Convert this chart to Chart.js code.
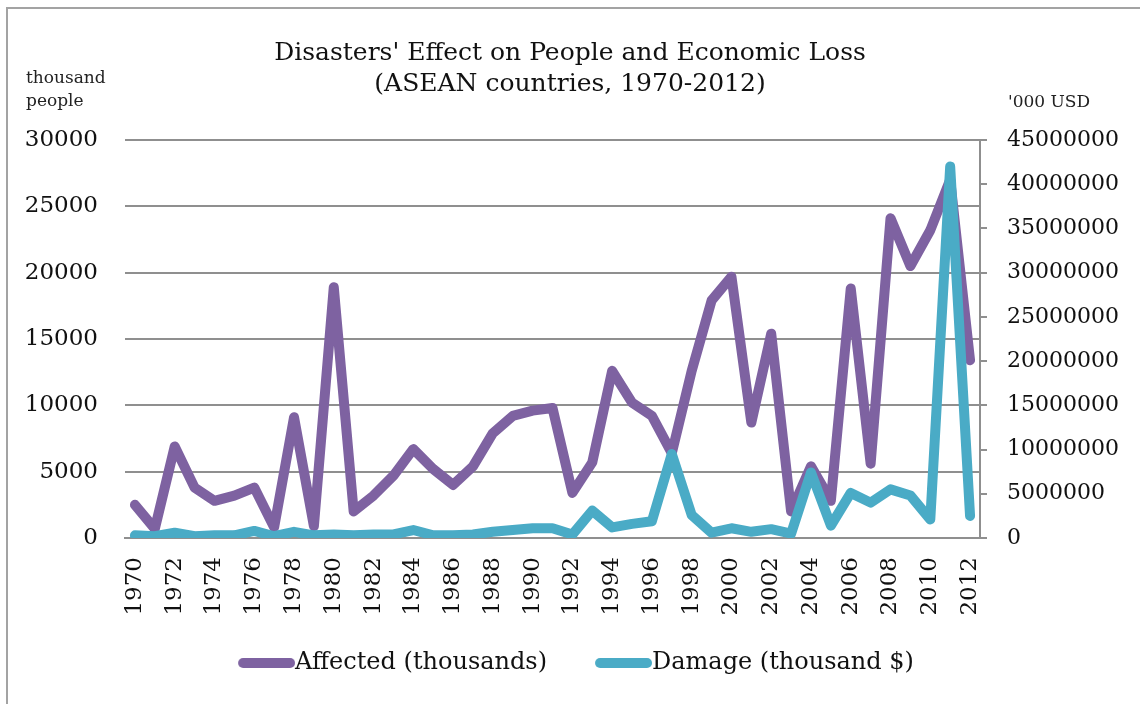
<!DOCTYPE html>
<html>
<head>
<meta charset="utf-8">
<script src="https://cdn.jsdelivr.net/npm/chart.js@4"></script>
<style>
  html, body { margin: 0; padding: 0; background: #fff; overflow: hidden; }
  #wrap { position: relative; width: 1140px; height: 704px; }
  #frame { position: absolute; left: 6px; top: 7px; width: 1200px; height: 800px;
           border: 2px solid #a3a3a3; box-sizing: border-box; }
  canvas { position: absolute; left: 0; top: 0; }
</style>
</head>
<body>
<div id="wrap">
  <div id="frame"></div>
  <canvas id="chart" width="1140" height="704"></canvas>
</div>
<script>
var years = [];
for (var y = 1970; y <= 2012; y++) years.push(String(y));

// thousand people
var affected = [2500, 700, 6900, 3800, 2800, 3200, 3800, 800, 9100, 900,
                18900, 2000, 3200, 4700, 6700, 5200, 4000, 5400, 7900, 9200,
                9600, 9800, 3400, 5700, 12600, 10200, 9200, 6400, 12600, 17900,
                19700, 8700, 15400, 2000, 5400, 2800, 18800, 5600, 24100, 20500,
                23200, 27000, 13400];

// '000 USD
var damage = [300000, 200000, 600000, 200000, 300000, 300000, 800000, 200000, 700000, 300000,
              400000, 300000, 400000, 400000, 900000, 300000, 300000, 400000, 700000, 900000,
              1100000, 1100000, 400000, 3100000, 1200000, 1600000, 1900000, 9500000, 2600000, 600000,
              1100000, 700000, 1000000, 500000, 7400000, 1400000, 5100000, 4000000, 5500000, 4800000,
              2100000, 42000000, 2500000];

var titleLines = ["Disasters' Effect on People and Economic Loss", "(ASEAN countries, 1970-2012)"];
var leftUnit = ['thousand', 'people'];
var rightUnit = "'000 USD";

var serif = "'DejaVu Serif', serif";
var gridGray = '#8f8f8f';
var legendFont = 24;
var swatchW = 57;

var unitLabels = {
  id: 'unitLabels',
  afterDraw: function(chart) {
    var ctx = chart.ctx;
    ctx.save();
    ctx.fillStyle = '#222';
    ctx.font = '17px ' + serif;
    ctx.textBaseline = 'middle';
    ctx.textAlign = 'left';
    ctx.fillText(leftUnit[0], 26, 79);
    ctx.fillText(leftUnit[1], 26, 102);
    ctx.fillText(rightUnit, 1008, 103);
    ctx.restore();
  }
};

// legend swatch: a short thick rounded line that sits right against its text
function swatch(color) {
  var gap = legendFont / 2;
  var c = document.createElement('canvas');
  c.width = swatchW + 2 * gap;
  c.height = 12;
  var g = c.getContext('2d');
  g.strokeStyle = color;
  g.lineWidth = 10;
  g.lineCap = 'round';
  g.beginPath();
  g.moveTo(2 * gap + 5, 6);
  g.lineTo(c.width - 5, 6);
  g.stroke();
  return c;
}

function plain(v) { return String(v); }

new Chart(document.getElementById('chart'), {
  type: 'line',
  data: {
    labels: years,
    datasets: [
      {
        label: 'Affected (thousands)',
        data: affected,
        yAxisID: 'y',
        borderColor: '#7e62a1',
        backgroundColor: '#7e62a1',
        borderWidth: 10,
        borderCapStyle: 'round',
        borderJoinStyle: 'round',
        pointRadius: 0,
        tension: 0,
        order: 1
      },
      {
        label: 'Damage (thousand $)',
        data: damage,
        yAxisID: 'y1',
        borderColor: '#4aabc6',
        backgroundColor: '#4aabc6',
        borderWidth: 10,
        borderCapStyle: 'round',
        borderJoinStyle: 'round',
        pointRadius: 0,
        tension: 0,
        order: 0
      }
    ]
  },
  options: {
    responsive: false,
    animation: false,
    layout: { padding: { top: 38, bottom: 19, left: 0, right: 0 } },
    plugins: {
      title: {
        display: true,
        text: titleLines,
        color: '#111',
        font: { family: serif, size: 25, weight: 'normal', lineHeight: 1.24 },
        padding: { top: 0, bottom: 40 }
      },
      legend: {
        position: 'bottom',
        labels: {
          color: '#111',
          font: { family: serif, size: legendFont },
          usePointStyle: true,
          pointStyleWidth: swatchW,
          padding: 36,
          sort: function(a, b) { return a.datasetIndex - b.datasetIndex; },
          generateLabels: function(chart) {
            var items = Chart.defaults.plugins.legend.labels.generateLabels(chart);
            items.forEach(function(it) {
              it.pointStyle = swatch(chart.data.datasets[it.datasetIndex].borderColor);
              it.lineWidth = 0;
            });
            return items;
          }
        }
      },
      tooltip: { enabled: false }
    },
    scales: {
      x: {
        offset: true,
        grid: { display: false },
        border: { display: true, color: gridGray, width: 2 },
        ticks: {
          autoSkip: false,
          minRotation: 90,
          maxRotation: 90,
          padding: 11,
          color: '#111',
          font: { family: serif, size: 23 },
          callback: function(v, i) { return i % 2 === 0 ? years[i] : ''; }
        },
        afterFit: function(s) { s.height = 77; }
      },
      y: {
        position: 'left',
        min: 0,
        max: 30000,
        grid: { color: gridGray, lineWidth: 2, drawTicks: false },
        border: { display: false },
        ticks: {
          stepSize: 5000,
          padding: 27,
          color: '#111',
          font: { family: serif, size: 23 },
          callback: plain
        },
        afterFit: function(s) { s.width = 125; }
      },
      y1: {
        position: 'right',
        min: 0,
        max: 45000000,
        grid: { drawOnChartArea: false, color: gridGray, lineWidth: 2, tickLength: 7 },
        border: { display: true, color: gridGray, width: 2 },
        ticks: {
          stepSize: 5000000,
          padding: 20,
          color: '#111',
          font: { family: serif, size: 22 },
          callback: plain
        },
        afterFit: function(s) { s.width = 160; }
      }
    }
  },
  plugins: [unitLabels]
});
</script>
</body>
</html>
